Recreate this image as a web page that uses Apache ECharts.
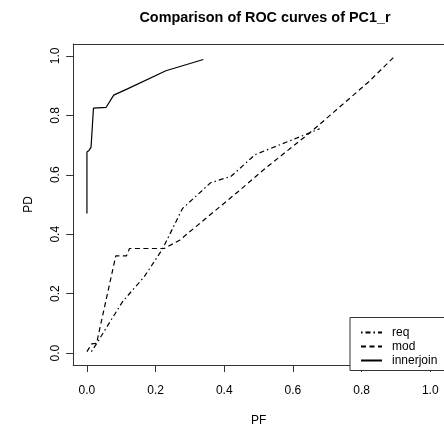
<!DOCTYPE html>
<html>
<head>
<meta charset="utf-8">
<script src="https://cdn.jsdelivr.net/npm/echarts@6/dist/echarts.min.js"></script>
<style>html,body{margin:0;padding:0;background:#fff;}#c{width:444px;height:432px;}</style>
</head>
<body>
<div id="c"></div>
<script>
var titleText = 'Comparison of ROC curves of PC1_r';
var xName = 'PF';
var yName = 'PD';
var tickValues = [0, 0.2, 0.4, 0.6, 0.8, 1.0];
var seriesNames = ['req', 'mod', 'innerjoin'];

var reqPF = [0.013, 0.03, 0.068, 0.105, 0.167, 0.22, 0.278, 0.36, 0.42, 0.49, 0.625, 0.678];
var reqPD = [0.005, 0.035, 0.107, 0.175, 0.257, 0.35, 0.486, 0.573, 0.595, 0.668, 0.73, 0.755];

var modPF = [0.0, 0.014, 0.028, 0.084, 0.115, 0.124, 0.225, 0.27, 0.346, 0.44, 0.52, 0.65, 0.82, 0.893];
var modPD = [0.005, 0.031, 0.033, 0.327, 0.327, 0.352, 0.352, 0.38, 0.453, 0.543, 0.622, 0.742, 0.912, 0.995];

var innerPF = [0.0, 0.0, 0.006, 0.012, 0.019, 0.022, 0.056, 0.078, 0.118, 0.23, 0.339];
var innerPD = [0.47, 0.677, 0.682, 0.693, 0.824, 0.827, 0.827, 0.868, 0.889, 0.95, 0.988];

function zip(a, b) { return a.map(function (v, i) { return [v, b[i]]; }); }

var FONT = 'Liberation Sans';
var LINE = '#000';
var chart = echarts.init(document.getElementById('c'), null, {renderer: 'canvas'});
chart.setOption({
  animation: false,
  backgroundColor: '#fff',
  title: {
    text: titleText,
    left: 260,
    textAlign: 'center',
    top: 6,
    textStyle: {fontFamily: FONT, fontWeight: 'bold', fontSize: 14.4, color: '#000'}
  },
  grid: {left: 73.2, top: 44, width: 373.6, height: 328, containLabel: false},
  legend: {
    orient: 'vertical',
    left: 350,
    top: 317.5,
    padding: [9, 30, 4, 10],
    itemWidth: 21,
    itemHeight: 12,
    itemGap: 2,
    borderColor: '#333',
    borderWidth: 1,
    backgroundColor: '#fff',
    data: seriesNames,
    itemStyle: {opacity: 0},
    textStyle: {fontFamily: FONT, fontSize: 12, color: '#000', padding: [0, 0, 0, 5]}
  },
  xAxis: [{
    type: 'value',
    min: -0.04, max: 1.04,
    name: xName, nameLocation: 'middle', nameGap: 50,
    nameTextStyle: {fontFamily: FONT, fontSize: 12, color: '#000'},
    axisLine: {show: true, onZero: false, lineStyle: {color: '#333', width: 1}},
    axisTick: {show: true, length: 7, customValues: tickValues, lineStyle: {color: '#333'}},
    axisLabel: {customValues: tickValues, margin: 20, fontFamily: FONT, fontSize: 12, color: '#000',
      formatter: function (v) { return v.toFixed(1); }},
    splitLine: {show: false}
  }, {
    type: 'value', position: 'top', min: -0.04, max: 1.04,
    axisLine: {show: true, onZero: false, lineStyle: {color: '#333', width: 1}},
    axisTick: {show: false}, axisLabel: {show: false}, splitLine: {show: false}
  }],
  yAxis: [{
    type: 'value',
    min: -0.04, max: 1.04,
    name: yName, nameLocation: 'middle', nameGap: 39,
    nameTextStyle: {fontFamily: FONT, fontSize: 12, color: '#000'},
    axisLine: {show: true, onZero: false, lineStyle: {color: '#333', width: 1}},
    axisTick: {show: true, length: 7, customValues: tickValues, lineStyle: {color: '#333'}},
    axisLabel: {customValues: tickValues, rotate: 90, margin: 12, fontFamily: FONT, fontSize: 12, color: '#000',
      formatter: function (v) { return v.toFixed(1); }},
    splitLine: {show: false}
  }, {
    type: 'value', position: 'right', min: -0.04, max: 1.04,
    axisLine: {show: true, onZero: false, lineStyle: {color: '#333', width: 1}},
    axisTick: {show: false}, axisLabel: {show: false}, splitLine: {show: false}
  }],
  series: [{
    name: seriesNames[0], type: 'line', data: zip(reqPF, reqPD), symbol: 'none',
    lineStyle: {color: LINE, width: 1.2, type: [1.5, 3, 5, 3]}, itemStyle: {color: LINE}
  }, {
    name: seriesNames[1], type: 'line', data: zip(modPF, modPD), symbol: 'none',
    lineStyle: {color: LINE, width: 1.2, type: [5, 3.5]}, itemStyle: {color: LINE}
  }, {
    name: seriesNames[2], type: 'line', data: zip(innerPF, innerPD), symbol: 'none',
    lineStyle: {color: LINE, width: 1.2, type: 'solid'}, itemStyle: {color: LINE}
  }]
});
</script>
</body>
</html>
